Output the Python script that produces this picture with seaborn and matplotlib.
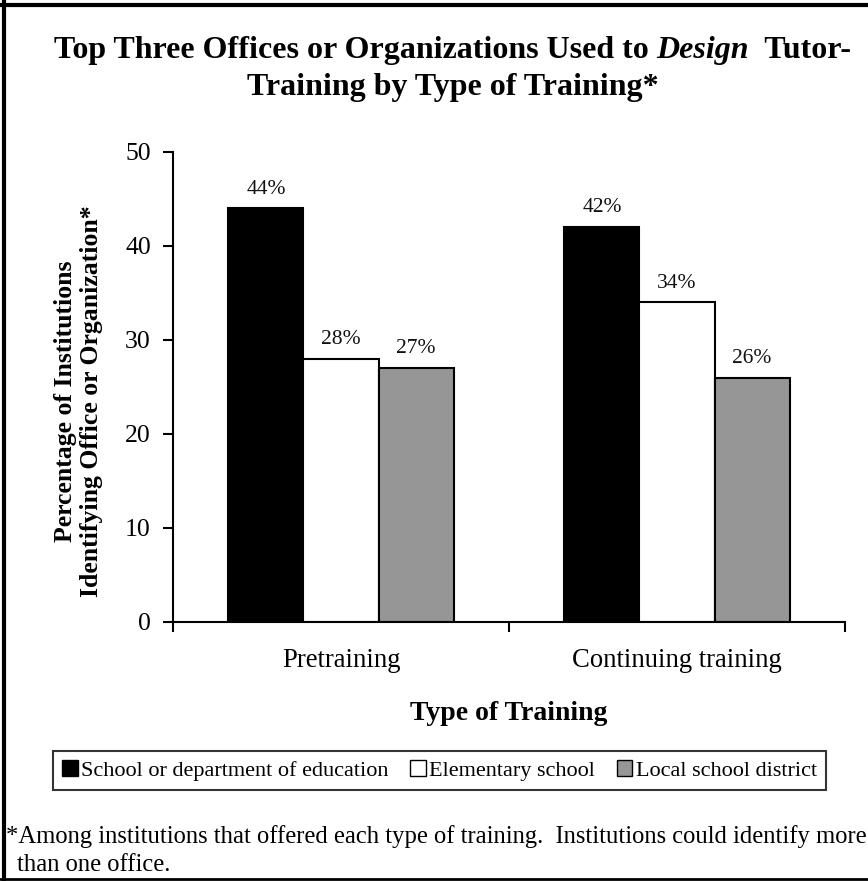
import matplotlib
matplotlib.use("Agg")
import matplotlib.pyplot as plt
import seaborn as sns
import pandas as pd
from matplotlib.lines import Line2D
from matplotlib.patches import Patch

categories = ["Pretraining", "Continuing training"]
offices = ["School or department of education", "Elementary school", "Local school district"]
values = {
    "School or department of education": [44, 42],
    "Elementary school": [28, 34],
    "Local school district": [27, 26],
}
colors = ["#000000", "#ffffff", "#969696"]
yticks = [0, 10, 20, 30, 40, 50]

rows = []
for off in offices:
    for cat, v in zip(categories, values[off]):
        rows.append({"Type": cat, "Office": off, "Pct": v})
df = pd.DataFrame(rows)

sns.set_theme(style="white", rc={"text.color": "black", "axes.labelcolor": "black",
                                 "xtick.color": "black", "ytick.color": "black"})
plt.rcParams["font.family"] = ["Liberation Serif", "DejaVu Serif"]

W, H = 868, 881
fig = plt.figure(figsize=(W / 100, H / 100), dpi=100)

# plot area in pixels: x 173..845, y 152..622
ax_l, ax_r, ax_t, ax_b = 173, 845, 152, 622
ax = fig.add_axes([ax_l / W, 1 - ax_b / H, (ax_r - ax_l) / W, (ax_b - ax_t) / H])

sns.barplot(data=df, x="Type", y="Pct", hue="Office", hue_order=offices,
            order=categories, palette=colors, width=0.67, edgecolor="black",
            linewidth=1.5, saturation=1, legend=False, ax=ax, errorbar=None)

for cont in ax.containers:
    ax.bar_label(cont, labels=[f"{int(v)}%" for v in cont.datavalues],
                 padding=7, fontsize=15.5, color="#111111")

ax.set_xlim(-0.5, 1.5)
ax.set_ylim(0, 50)
ax.set_yticks(yticks)
ax.set_yticklabels([str(t) for t in yticks], fontsize=18.5)
ax.tick_params(axis="y", direction="out", length=7, width=1.5, pad=9, left=True)

# category boundary ticks, labels centred between them
ax.set_xticks([-0.5, 0.5, 1.5])
ax.set_xticklabels(["", "", ""])
ax.tick_params(axis="x", which="major", direction="out", length=7, width=1.5, bottom=True)
ax.set_xticks([0, 1], minor=True)
ax.set_xticklabels(categories, minor=True, fontsize=19.2)
ax.tick_params(axis="x", which="minor", length=0, pad=19)

for s in ["top", "right"]:
    ax.spines[s].set_visible(False)
for s in ["left", "bottom"]:
    ax.spines[s].set_color("black")
    ax.spines[s].set_linewidth(1.5)
ax.grid(False)

ax.set_xlabel("Type of Training", fontsize=20, fontweight="bold")
ax.xaxis.set_label_coords(0.5, -(713 - ax_b) / (ax_b - ax_t))
ax.xaxis.label.set_va("center")
ax.set_ylabel("")
fig.text(78.5 / W, 1 - 401 / H, "Percentage of Institutions\nIdentifying Office or Organization*",
         rotation=90, ha="center", va="center", fontsize=18.5, fontweight="bold",
         linespacing=1.12)

# title: bold with an italic word
r = fig.canvas.get_renderer()
parts = [("Top Three Offices or Organizations Used to ", "normal"),
         ("Design", "italic"),
         ("  Tutor-", "normal")]
tsize = 23
objs = []
for txt, st in parts:
    t = fig.text(0, 0, txt, fontsize=tsize, fontweight="bold", fontstyle=st,
                 ha="left", va="baseline")
    objs.append(t)
fig.canvas.draw()
widths = [t.get_window_extent(r).width for t in objs]
total = sum(widths)
x0 = 851 - total
for t, w in zip(objs, widths):
    t.set_position((x0 / W, 1 - 58 / H))
    x0 += w
title_cx = 851 - total / 2
fig.text(title_cx / W, 1 - 95 / H, "Training by Type of Training*", fontsize=tsize,
         fontweight="bold", ha="center", va="baseline")

# legend
handles = [Patch(facecolor=c, edgecolor="black", linewidth=1) for c in colors]
leg = fig.legend(handles, offices, loc="center", bbox_to_anchor=(439.5 / W, 1 - 770.5 / H),
                 ncol=3, fontsize=16, frameon=True, fancybox=False,
                 handlelength=0.7, handleheight=0.7, handletextpad=0.15,
                 columnspacing=0.97, borderpad=0.4, borderaxespad=0)
leg.get_frame().set_edgecolor("black")
leg.get_frame().set_linewidth(1.5)

# footnote
fig.text(6 / W, 1 - 837 / H,
         "*Among institutions that offered each type of training.  Institutions could identify more",
         fontsize=17.7, ha="left", va="center")
fig.text(17 / W, 1 - 865 / H, "than one office.", fontsize=17.7, ha="left", va="center")

# frame along left, top and bottom edges
fig.add_artist(Line2D([4 / W, 4 / W], [0, 1], transform=fig.transFigure, color="black", lw=3))
fig.add_artist(Line2D([0, 1], [1 - 5 / H, 1 - 5 / H], transform=fig.transFigure, color="black", lw=3))
fig.add_artist(Line2D([0, 1], [1 - 879 / H, 1 - 879 / H], transform=fig.transFigure, color="black", lw=2))

fig.savefig("out.png", dpi=100, facecolor="white")
